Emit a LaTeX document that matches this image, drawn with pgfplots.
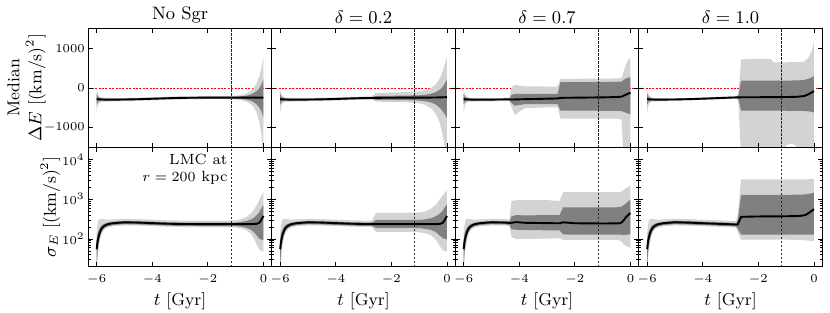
\documentclass[border=0pt]{standalone}
\usepackage{pgfplots}
\pgfplotsset{compat=1.18}
\usepackage{pgfplotstable}
\usepgfplotslibrary{groupplots,fillbetween}
\definecolor{lightband}{RGB}{211,211,211}
\definecolor{darkband}{RGB}{128,128,128}

% ---------- Median Delta E (top row) ----------
\pgfplotstableread{
t l2 l1 m h1 h2
-6.00 -620 -420 -280 -150 -60
-5.96 -460 -360 -285 -215 -140
-5.92 -390 -335 -288 -245 -195
-5.85 -355 -320 -290 -262 -232
-5.70 -345 -318 -294 -272 -250
-5.50 -342 -316 -295 -274 -252
-5.00 -335 -311 -292 -272 -250
-4.50 -326 -302 -285 -266 -245
-4.00 -315 -291 -273 -255 -234
-3.50 -302 -280 -261 -243 -222
-3.00 -292 -269 -251 -233 -212
-2.50 -287 -265 -247 -230 -209
-2.00 -285 -263 -245 -228 -207
-1.50 -285 -263 -245 -228 -207
-1.00 -292 -266 -245 -224 -198
-0.80 -310 -276 -245 -214 -178
-0.60 -350 -296 -245 -194 -135
-0.45 -410 -325 -245 -165 -70
-0.35 -490 -360 -245 -130 0
-0.25 -620 -410 -245 -80 110
-0.15 -850 -490 -245 -10 280
-0.08 -1150 -580 -245 80 480
0.00 -1700 -740 -245 220 780
}\topA
\pgfplotstableread{
t l2 l1 m h1 h2
-6.00 -620 -420 -280 -150 -60
-5.96 -460 -360 -285 -215 -140
-5.92 -390 -335 -288 -245 -195
-5.85 -355 -320 -290 -262 -232
-5.70 -345 -318 -294 -272 -250
-5.50 -342 -316 -295 -274 -252
-5.00 -337 -312 -293 -273 -251
-4.50 -330 -305 -288 -268 -247
-4.00 -320 -296 -278 -259 -238
-3.50 -307 -284 -266 -248 -227
-3.00 -297 -274 -256 -238 -217
-2.70 -300 -274 -254 -235 -208
-2.55 -345 -300 -250 -205 -130
-2.00 -355 -305 -247 -198 -112
-1.50 -360 -308 -245 -195 -108
-1.00 -385 -318 -244 -185 -90
-0.80 -425 -332 -244 -172 -60
-0.60 -500 -360 -243 -150 -10
-0.45 -600 -400 -242 -120 60
-0.35 -720 -445 -240 -85 140
-0.25 -900 -510 -238 -40 250
-0.15 -1200 -590 -236 30 420
-0.08 -1500 -660 -235 110 580
0.00 -1900 -760 -230 210 780
}\topB
\pgfplotstableread{
t l2 l1 m h1 h2
-6.00 -620 -420 -280 -150 -60
-5.96 -460 -360 -285 -215 -140
-5.92 -390 -335 -288 -245 -195
-5.85 -355 -320 -290 -262 -232
-5.70 -345 -318 -294 -272 -250
-5.50 -342 -316 -295 -274 -252
-5.00 -338 -313 -294 -274 -252
-4.50 -333 -308 -290 -270 -248
-4.35 -333 -308 -290 -270 -248
-4.28 -480 -380 -292 -180 20
-4.15 -690 -450 -290 -150 75
-4.00 -600 -430 -287 -150 60
-3.80 -510 -410 -284 -155 40
-3.00 -490 -405 -272 -150 35
-2.62 -490 -405 -265 -150 35
-2.52 -770 -570 -250 145 230
-2.00 -770 -572 -246 145 230
-1.50 -772 -574 -242 146 232
-1.00 -774 -575 -238 148 234
-0.50 -776 -577 -230 152 238
-0.32 -790 -582 -222 160 250
-0.26 -1650 -600 -200 190 380
-0.18 -1700 -620 -175 230 560
-0.10 -1750 -640 -150 250 680
0.00 -1800 -660 -120 270 780
}\topC
\pgfplotstableread{
t l2 l1 m h1 h2
-6.00 -620 -420 -280 -150 -60
-5.96 -460 -360 -285 -215 -140
-5.92 -390 -335 -289 -245 -195
-5.85 -352 -320 -291 -263 -234
-5.70 -340 -317 -294 -272 -252
-5.50 -335 -314 -295 -276 -257
-5.00 -325 -307 -291 -275 -259
-4.50 -315 -298 -283 -268 -252
-4.00 -302 -286 -271 -256 -240
-3.50 -290 -273 -258 -243 -227
-3.00 -276 -259 -244 -229 -213
-2.78 -272 -254 -239 -224 -207
-2.72 -320 -280 -238 -195 -140
-2.62 -1700 -570 -236 180 720
-2.00 -1700 -570 -234 183 725
-1.55 -1700 -570 -233 183 725
-1.45 -1700 -572 -232 184 640
-1.10 -1700 -574 -230 185 642
-1.00 -1440 -575 -229 185 645
-0.80 -1400 -576 -227 186 648
-0.65 -1450 -577 -224 188 650
-0.55 -1700 -578 -220 190 652
-0.35 -1700 -580 -205 200 665
-0.20 -1700 -590 -160 230 760
-0.10 -1700 -600 -120 260 900
0.00 -1700 -620 -80 300 1150
}\topD

% ---------- sigma_E (bottom row) ----------
\pgfplotstableread{
t l2 l1 m h1 h2
-6.00 10 18 55 90 140
-5.97 30 45 85 130 220
-5.93 60 75 115 160 300
-5.88 95 115 150 190 320
-5.82 135 155 185 220 320
-5.72 175 190 215 240 310
-5.60 195 210 235 258 305
-5.40 210 225 250 270 310
-5.00 220 235 262 285 320
-4.50 218 232 258 280 315
-4.00 212 225 250 272 305
-3.50 205 218 242 263 295
-3.00 200 213 238 258 290
-2.00 198 211 236 256 288
-1.00 196 210 236 258 292
-0.80 185 203 236 268 315
-0.60 165 190 236 285 360
-0.45 135 170 237 310 440
-0.35 105 150 238 340 540
-0.25 75 125 240 390 700
-0.15 55 100 255 470 950
-0.08 50 96 300 580 1200
0.00 48 95 380 720 1550
}\botA
\pgfplotstableread{
t l2 l1 m h1 h2
-6.00 10 18 55 90 140
-5.97 30 45 85 130 220
-5.93 60 75 115 160 300
-5.88 95 115 150 190 320
-5.82 135 155 185 220 320
-5.72 175 190 215 240 310
-5.60 195 210 235 258 305
-5.40 210 225 250 270 310
-5.00 220 235 262 285 320
-4.50 218 232 258 280 315
-4.00 212 225 250 272 305
-3.50 205 218 242 263 295
-3.00 200 213 238 258 290
-2.70 200 213 237 258 290
-2.55 150 190 236 300 450
-2.00 150 190 235 300 450
-1.50 150 190 235 300 455
-1.00 148 188 235 302 460
-0.80 140 180 235 310 490
-0.60 125 170 235 330 560
-0.45 105 155 236 360 680
-0.35 85 140 237 390 800
-0.25 65 120 240 440 1000
-0.15 52 105 255 520 1250
-0.08 50 100 300 620 1450
0.00 48 98 380 740 1700
}\botB
\pgfplotstableread{
t l2 l1 m h1 h2
-6.00 10 18 55 90 140
-5.97 30 45 85 130 220
-5.93 60 75 115 160 300
-5.88 95 115 150 190 320
-5.82 135 155 185 220 320
-5.72 175 190 215 240 310
-5.60 195 210 235 258 305
-5.40 210 225 250 270 310
-5.00 220 235 262 285 320
-4.50 218 232 258 280 315
-4.35 212 226 252 275 308
-4.28 110 175 255 370 900
-4.10 100 170 265 400 950
-3.80 100 168 255 390 950
-3.00 102 165 250 400 950
-2.55 105 165 248 400 900
-2.42 95 130 262 620 1500
-2.00 95 128 248 620 1500
-1.00 95 128 245 620 1500
-0.50 95 128 246 625 1500
-0.35 90 128 250 640 1520
-0.25 75 127 290 700 1700
-0.15 65 127 360 800 1900
-0.05 62 130 420 920 2100
0.00 60 130 450 960 2200
}\botC
\pgfplotstableread{
t l2 l1 m h1 h2
-6.00 10 18 55 90 140
-5.97 30 45 85 130 220
-5.93 60 75 115 160 300
-5.88 95 115 150 190 320
-5.82 135 155 185 220 320
-5.72 175 190 215 240 310
-5.60 195 210 235 258 305
-5.40 210 225 250 270 310
-5.00 220 236 263 288 322
-4.50 216 231 257 281 314
-4.00 210 224 249 272 304
-3.50 203 217 241 263 295
-3.00 197 211 234 256 287
-2.80 193 207 230 252 283
-2.74 150 180 232 300 400
-2.62 96 128 360 1280 3150
-2.00 96 128 368 1290 3150
-1.00 96 128 372 1290 3150
-0.50 94 128 380 1300 3150
-0.30 92 128 400 1320 3150
-0.15 90 128 470 1380 3200
0.00 88 128 560 1450 3250
}\botD

\newcommand{\bands}[1]{%
  \addplot[draw=none, name path=A] table[x=t,y=h2]{#1};
  \addplot[draw=none, name path=B] table[x=t,y=l2]{#1};
  \addplot[fill=lightband, draw=none] fill between[of=A and B];
  \addplot[draw=none, name path=C] table[x=t,y=h1]{#1};
  \addplot[draw=none, name path=D] table[x=t,y=l1]{#1};
  \addplot[fill=darkband, draw=none] fill between[of=C and D];
  \addplot[black, line width=0.95pt] table[x=t,y=m]{#1};
}
\newcommand{\zeroline}{%
  \addplot[red, line width=0.35pt, dash pattern=on 1pt off 0.7pt, on layer=axis background] coordinates {(-6.3,0) (0.3,0)};
}
\newcommand{\tline}[2]{%
  \addplot[black!85, line width=0.3pt, dash pattern=on 1.1pt off 0.9pt] coordinates {(-1.16,#1) (-1.16,#2)};
}

\begin{document}
\begin{tikzpicture}
\begin{groupplot}[
  group style={group size=4 by 2, horizontal sep=0pt, vertical sep=0pt,
    xticklabels at=edge bottom, yticklabels at=edge left},
  set layers,
  scale only axis, width=91.75pt, height=59.6pt,
  xmin=-6.3, xmax=0.3, xtick={-6,-4,-2,0},
  tick align=inside, major tick length=2.2pt, minor tick length=1.2pt,
  tick style={black, line width=0.4pt},
  axis line style={line width=0.6pt},
  ticklabel style={font=\fontsize{6}{7}\selectfont},
  yticklabel style={inner xsep=1.6pt},
  xticklabel style={yshift=-0.7pt},
  label style={font=\fontsize{8.6}{11}\selectfont},
  xlabel style={yshift=2.8pt},
  title style={font=\fontsize{9}{10}\selectfont, yshift=-1pt},
  every axis title shift=0pt,
  /pgf/number format/1000 sep={},
  axis on top,
]
\nextgroupplot[ymin=-1500, ymax=1500, ytick={-1000,0,1000}, scaled y ticks=false,
  title={No Sgr}]
\coordinate (tl) at (rel axis cs:0,1);
\coordinate (ylA) at (rel axis cs:-0.337,0.5);
\zeroline
\bands{\topA}
\tline{-1500}{1500}

\nextgroupplot[ymin=-1500, ymax=1500, ytick={-1000,0,1000}, scaled y ticks=false,
  title={$\delta = 0.2$}]
\zeroline
\bands{\topB}
\tline{-1500}{1500}

\nextgroupplot[ymin=-1500, ymax=1500, ytick={-1000,0,1000}, scaled y ticks=false,
  title={$\delta = 0.7$}]
\zeroline
\bands{\topC}
\tline{-1500}{1500}

\nextgroupplot[ymin=-1500, ymax=1500, ytick={-1000,0,1000}, scaled y ticks=false,
  title={$\delta = 1.0$}]
\zeroline
\bands{\topD}
\tline{-1500}{1500}

\nextgroupplot[ymode=log, ymin=20, ymax=20000, ytick={100,1000,10000},
  minor ytick={20,30,40,50,60,70,80,90,200,300,400,500,600,700,800,900,2000,3000,4000,5000,6000,7000,8000,9000,20000},
  xlabel={$t$ [Gyr]}]
\coordinate (ylB) at (rel axis cs:-0.207,0.5);
\bands{\botA}
\tline{20}{20000}
\node[anchor=north east, align=right, inner sep=0pt, font=\fontsize{7.4}{8.2}\selectfont]
  at (rel axis cs:0.761,0.945) {LMC at\\$r = 200$ kpc};

\nextgroupplot[ymode=log, ymin=20, ymax=20000, ytick={100,1000,10000},
  minor ytick={20,30,40,50,60,70,80,90,200,300,400,500,600,700,800,900,2000,3000,4000,5000,6000,7000,8000,9000,20000},
  xlabel={$t$ [Gyr]}]
\bands{\botB}
\tline{20}{20000}

\nextgroupplot[ymode=log, ymin=20, ymax=20000, ytick={100,1000,10000},
  minor ytick={20,30,40,50,60,70,80,90,200,300,400,500,600,700,800,900,2000,3000,4000,5000,6000,7000,8000,9000,20000},
  xlabel={$t$ [Gyr]}]
\bands{\botC}
\tline{20}{20000}

\nextgroupplot[ymode=log, ymin=20, ymax=20000, ytick={100,1000,10000},
  minor ytick={20,30,40,50,60,70,80,90,200,300,400,500,600,700,800,900,2000,3000,4000,5000,6000,7000,8000,9000,20000},
  xlabel={$t$ [Gyr]}]
\bands{\botD}
\tline{20}{20000}
\coordinate (br) at (rel axis cs:1,0);
\end{groupplot}
\node[rotate=90, align=center, anchor=center, font=\fontsize{8.6}{11}\selectfont]
  at (ylA) {Median\\$\Delta E$ [(km/s)$^2$]};
\node[rotate=90, anchor=center, font=\fontsize{8.6}{11}\selectfont]
  at (ylB) {$\sigma_E$ [(km/s)$^2$]};
\pgfresetboundingbox
\path[use as bounding box] ([shift={(-44.15pt,14.15pt)}]tl) rectangle ([shift={(3.85pt,-22.65pt)}]br);
\end{tikzpicture}
\end{document}
